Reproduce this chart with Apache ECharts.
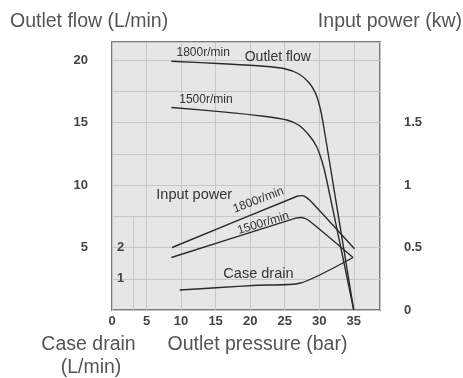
<!DOCTYPE html>
<html>
<head>
<meta charset="utf-8">
<script src="https://cdn.jsdelivr.net/npm/echarts@6/dist/echarts.min.js"></script>
<style>
  html, body { margin: 0; padding: 0; background: #ffffff; }
  #chart { width: 463px; height: 378px; }
</style>
</head>
<body>
<div id="chart"></div>
<script>
// Pump performance curves: outlet flow, input power and case drain vs outlet pressure.

// Outlet pressure (bar) samples for each curve
const flow1800Pressure = [8.6, 16, 22, 25, 27, 28.5, 29.5, 30.2, 30.7, 31.3, 35];
const flow1800Values   = [19.9, 19.7, 19.5, 19.3, 18.9, 18.2, 17.3, 16.0, 14.5, 12.5, 0];

const flow1500Pressure = [8.6, 16, 22, 25.3, 27, 28.5, 29.6, 30.4, 31.0, 35];
const flow1500Values   = [16.2, 15.85, 15.5, 15.2, 14.8, 14.0, 13.1, 11.9, 10.6, 0];

// Input power (kW)
const power1800Pressure = [8.7, 26.8, 27.6, 28.6, 35.1];
const power1800Values   = [0.50, 0.91, 0.915, 0.88, 0.49];

const power1500Pressure = [8.6, 26.6, 27.4, 28.4, 34.9];
const power1500Values   = [0.42, 0.735, 0.74, 0.72, 0.42];

// Case drain (L/min)
const drainPressure = [9.8, 15.6, 21, 27.2, 34.9];
const drainValues   = [0.64, 0.72, 0.79, 0.855, 1.68];

// Axis tick labels
const pressureTicks = [0, 5, 10, 15, 20, 25, 30, 35];
const flowTicks = [5, 10, 15, 20];
const powerTicks = [0, 0.5, 1, 1.5];
const drainTicks = [1, 2];

// Scale extents
const pressureMax = 38.8;
const flowMax = 21.44;
const powerMax = flowMax / 10;
const drainMax = flowMax / 2.5;

const zip = (xs, ys) => xs.map((x, i) => [x, ys[i]]);

const FONT = 'Liberation Sans, Arial, sans-serif';
const INK = '#2a2a2a';
const GRID = '#c6c6c6';

const chart = echarts.init(document.getElementById('chart'), null, { renderer: 'canvas' });

const near = (v, list) => list.some(t => Math.abs(t - v) < 1e-6);

const curveStyle = { color: INK, width: 1.4 };

chart.setOption({
  animation: false,
  grid: {
    left: 112, right: 83, top: 42, bottom: 68,
    show: true,
    backgroundColor: '#e6e6e6',
    borderColor: '#7a7a7a',
    borderWidth: 2
  },
  xAxis: {
    type: 'value', min: 0, max: pressureMax, interval: 5,
    axisLine: { show: false },
    axisTick: { show: false },
    splitLine: { show: true, lineStyle: { color: GRID, width: 1 } },
    axisLabel: {
      margin: 5, fontFamily: FONT, fontSize: 13, fontWeight: 'bold', color: '#444',
      showMaxLabel: false,
      formatter: v => near(v, pressureTicks) ? String(v) : ''
    }
  },
  yAxis: [
    {
      type: 'value', min: 0, max: flowMax, interval: 2.5, position: 'left',
      axisLine: { show: false },
      axisTick: { show: false },
      splitLine: { show: true, lineStyle: { color: GRID, width: 1 } },
      axisLabel: {
        margin: 24, fontFamily: FONT, fontSize: 13, fontWeight: 'bold', color: '#444',
        showMaxLabel: false,
        formatter: v => near(v, flowTicks) ? String(v) : ''
      }
    },
    {
      type: 'value', min: 0, max: powerMax, interval: 0.5, position: 'right',
      axisLine: { show: false },
      axisTick: { show: false },
      splitLine: { show: false },
      axisLabel: {
        margin: 24, align: 'left', fontFamily: FONT, fontSize: 13, fontWeight: 'bold', color: '#444',
        showMaxLabel: false,
        formatter: v => near(v, powerTicks) ? String(v) : ''
      }
    },
    {
      type: 'value', min: 0, max: drainMax, interval: 1, position: 'left',
      axisLine: { show: false },
      axisTick: { show: false },
      splitLine: { show: false },
      axisLabel: {
        inside: true, margin: 5, fontFamily: FONT, fontSize: 13, fontWeight: 'bold', color: '#444',
        showMaxLabel: false,
        formatter: v => near(v, drainTicks) ? String(v) : ''
      }
    }
  ],
  series: [
    {
      name: 'Outlet flow 1800r/min', type: 'line', yAxisIndex: 0,
      data: zip(flow1800Pressure, flow1800Values),
      smooth: 0.3, showSymbol: false, lineStyle: curveStyle, silent: true
    },
    {
      name: 'Outlet flow 1500r/min', type: 'line', yAxisIndex: 0,
      data: zip(flow1500Pressure, flow1500Values),
      smooth: 0.3, showSymbol: false, lineStyle: curveStyle, silent: true
    },
    {
      name: 'Input power 1800r/min', type: 'line', yAxisIndex: 1,
      data: zip(power1800Pressure, power1800Values),
      smooth: 0.2, showSymbol: false, lineStyle: curveStyle, silent: true
    },
    {
      name: 'Input power 1500r/min', type: 'line', yAxisIndex: 1,
      data: zip(power1500Pressure, power1500Values),
      smooth: 0.2, showSymbol: false, lineStyle: curveStyle, silent: true
    },
    {
      name: 'Case drain', type: 'line', yAxisIndex: 2,
      data: zip(drainPressure, drainValues),
      smooth: 0.2, showSymbol: false, lineStyle: curveStyle, silent: true,
      // divider of the case drain scale
      markLine: {
        silent: true, symbol: 'none', label: { show: false },
        lineStyle: { color: GRID, width: 1, type: 'solid' },
        data: [[{ coord: [3.1, 0] }, { coord: [3.1, 3] }]]
      }
    }
  ]
});

// Curve annotations, anchored in (pressure, flow) coordinates
const notes = [
  { text: '1800r/min',   at: [13.2, 20.55], size: 12, rot: 0 },
  { text: 'Outlet flow', at: [24.0, 20.25], size: 14, rot: 0 },
  { text: '1500r/min',   at: [13.6, 16.8],  size: 12, rot: 0 },
  { text: 'Input power', at: [11.9, 9.2],   size: 14.5, rot: 0 },
  { text: '1800r/min',   at: [21.2, 8.8],   size: 12, rot: 21 },
  { text: '1500r/min',   at: [21.9, 6.95],  size: 12, rot: 17 },
  { text: 'Case drain',  at: [21.2, 2.9],   size: 14.5, rot: 0 }
];

const graphics = notes.map(n => {
  const p = chart.convertToPixel({ xAxisIndex: 0, yAxisIndex: 0 }, n.at);
  return {
    type: 'text', x: p[0], y: p[1], rotation: n.rot * Math.PI / 180, silent: true,
    style: {
      text: n.text, fontFamily: FONT, fontSize: n.size, fill: '#333',
      align: 'center', verticalAlign: 'middle'
    }
  };
});

// Axis titles
const titles = [
  { text: 'Outlet flow (L/min)', x: 10, y: 22, align: 'left' },
  { text: 'Input power (kw)', x: 462, y: 22, align: 'right' },
  { text: 'Case drain', x: 88.5, y: 345, align: 'center' },
  { text: '(L/min)', x: 91, y: 368, align: 'center' },
  { text: 'Outlet pressure (bar)', x: 257.5, y: 345, align: 'center' }
];
titles.forEach(t => graphics.push({
  type: 'text', x: t.x, y: t.y, silent: true,
  style: {
    text: t.text, fontFamily: FONT, fontSize: 19.5, fill: '#555',
    align: t.align, verticalAlign: 'middle'
  }
}));

chart.setOption({ graphic: graphics });
</script>
</body>
</html>
